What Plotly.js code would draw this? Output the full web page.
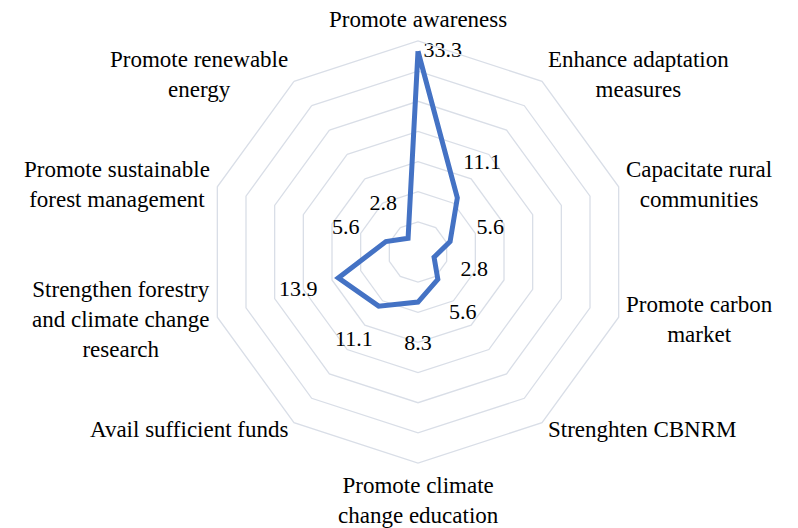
<!DOCTYPE html>
<html>
<head>
<meta charset="utf-8">
<script src="https://cdn.plot.ly/plotly-3.0.1.min.js"></script>
<style>html,body{margin:0;padding:0;background:#fff;}#chart{width:798px;height:528px;}</style>
</head>
<body>
<div id="chart"></div>
<script>
var categories = [
  "Promote awareness",
  "Enhance adaptation<br>measures",
  "Capacitate rural<br>communities",
  "Promote carbon<br>market",
  "Strenghten CBNRM",
  "Promote climate<br>change education",
  "Avail sufficient funds",
  "Strengthen forestry<br>and climate change<br>research",
  "Promote sustainable<br>forest management",
  "Promote renewable<br>energy"
];
var values = [33.3, 11.1, 5.6, 2.8, 5.6, 8.3, 11.1, 13.9, 5.6, 2.8];
var labels = ["33.3", "11.1", "5.6", "2.8", "5.6", "8.3", "11.1", "13.9", "5.6", "2.8"];
var radialMax = 35;

var FONT = "Liberation Serif";
var gridColor = "#d9dee7";
var labelGap = 7; // radial distance (data units) between point and its label

var lineTrace = {
  type: "scatterpolar",
  mode: "lines",
  r: values.concat([values[0]]),
  theta: categories.concat([categories[0]]),
  line: {color: "#4472C4", width: 5},
  hoverinfo: "skip"
};
var labelR = values.map(function(v, i){ return i === 0 ? v : v + labelGap; });
var labelPos = values.map(function(v, i){ return i === 0 ? "middle right" : "middle center"; });
var labelText = labels.map(function(t, i){ return i === 0 ? "\u00a0" + t : t; });
var textTrace = {
  type: "scatterpolar",
  mode: "text",
  r: labelR,
  theta: categories,
  text: labelText,
  textposition: labelPos,
  textfont: {family: FONT, size: 22, color: "#000"},
  cliponaxis: false,
  hoverinfo: "skip"
};

// Category labels: centred multi-line text anchored just outside each vertex
var n = categories.length;
var annotations = categories.map(function(c, i){
  var a = 2 * Math.PI * i / n;
  var s = Math.sin(a), co = Math.cos(a);
  var xa = s > 0.01 ? "left" : (s < -0.01 ? "right" : "center");
  var ya = co > 0.99 ? "bottom" : (co < -0.99 ? "top" : "middle");
  return {
    xref: "x", yref: "y",
    x: radialMax * s, y: radialMax * co,
    text: c, showarrow: false, align: "center",
    xanchor: xa, yanchor: ya,
    xshift: 6 * s,
    yshift: ya === "bottom" ? 7 : (ya === "top" ? -8 : 9 * co),
    font: {family: FONT, size: 23, color: "#000"}
  };
});

var layout = {
  width: 798, height: 528,
  margin: {l: 207, r: 169, t: 41, b: 65},
  paper_bgcolor: "#fff",
  plot_bgcolor: "rgba(0,0,0,0)",
  showlegend: false,
  font: {family: FONT, size: 22, color: "#000"},
  xaxis: {range: [-radialMax, radialMax], visible: false, fixedrange: true},
  yaxis: {range: [-radialMax, radialMax], visible: false, fixedrange: true},
  polar: {
    bgcolor: "#fff",
    gridshape: "linear",
    domain: {x: [0, 1], y: [0, 1]},
    radialaxis: {
      range: [0, radialMax], dtick: 5, showticklabels: false, ticks: "",
      showline: false, gridcolor: gridColor, gridwidth: 1.3
    },
    angularaxis: {
      direction: "clockwise", rotation: 90,
      showgrid: false, ticks: "", showline: true, showticklabels: false,
      linecolor: gridColor, linewidth: 1.3
    }
  },
  annotations: annotations
};

Plotly.newPlot("chart", [lineTrace, textTrace], layout, {displayModeBar: false, staticPlot: true});
</script>
</body>
</html>
